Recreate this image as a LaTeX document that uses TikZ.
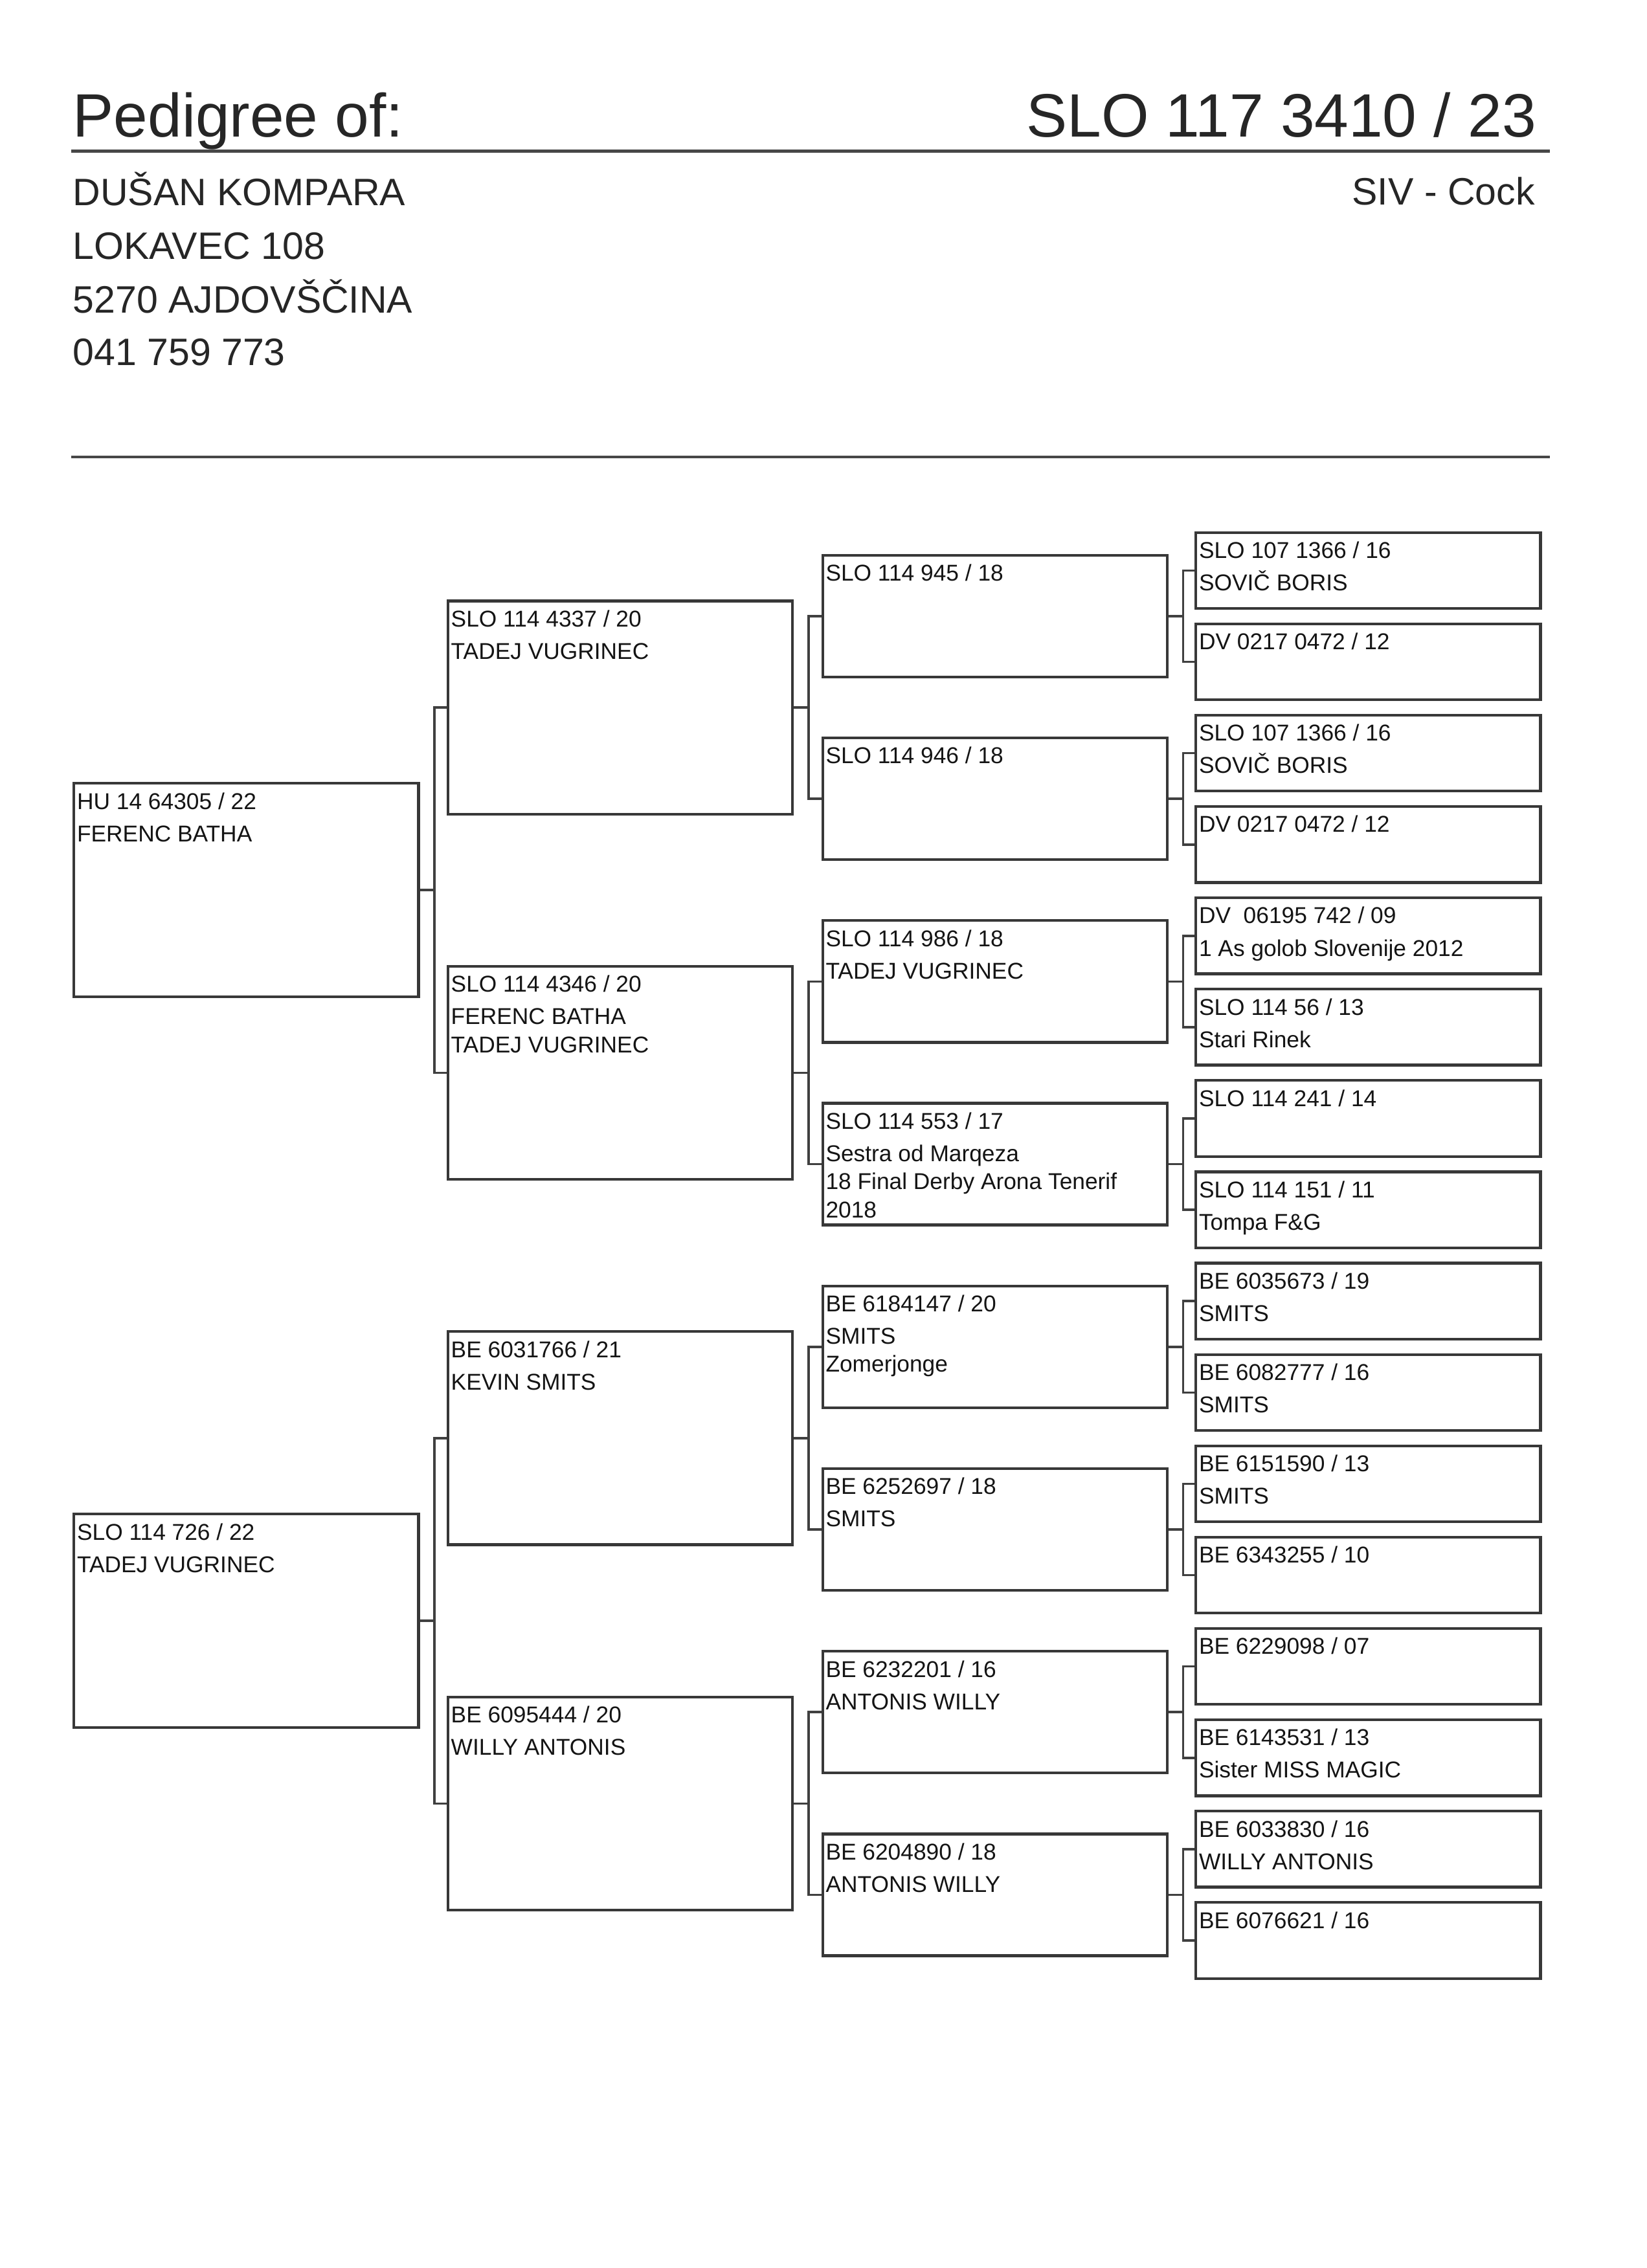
\documentclass[tikz,border=0pt]{standalone}
\usepackage{fontspec}
\setmainfont{Liberation Sans}

\begin{document}
\begin{tikzpicture}[x=0.025cm,y=-0.025cm,
  every node/.style={inner sep=0pt},
  pedbox/.style={draw=black!78, line width=1.35pt, anchor=north west, minimum width=5.93cm},
  g1/.style={pedbox, minimum height=3.675cm},
  g2/.style={pedbox, minimum height=3.6675cm},
  g3/.style={pedbox, minimum height=2.095cm},
  g4/.style={pedbox, minimum height=1.3075cm},
  pedline/.style={anchor=base west, text=black!92, font=\fontsize{11.2}{13}\selectfont},
  row1/.style={pedline, xshift=0.07cm, yshift=-0.4675cm},
  row2/.style={pedline, xshift=0.07cm, yshift=-1.025cm},
  row3/.style={pedline, xshift=0.07cm, yshift=-1.5075cm},
  row4/.style={pedline, xshift=0.07cm, yshift=-1.99cm},
  link/.style={draw=black!75, line width=1.15pt},
  rule/.style={draw=black!72, line width=1.4pt},
  title/.style={text=black!85, font=\fontsize{30}{36}\selectfont},
  owner/.style={anchor=base west, text=black!85, font=\fontsize{18.7}{22}\selectfont}]
  \fill [white] (0,0) rectangle (1134,1562);
  \useasboundingbox (0,0) rectangle (1134,1562);

  % header
  \node [title, anchor=base west] (head) at (50,94.5) {Pedigree of:};
  \node [title, anchor=base east] (ring) at (1058,94.5) {SLO 117 3410 / 23};
  \draw [rule] (49,104) -- (1067,104);
  \node [owner] (name) at (50,141.5) {DUŠAN KOMPARA};
  \node [owner, anchor=base east] (sex) at (1057,141) {SIV - Cock};
  \node [owner] (street) at (50,178.6) {LOKAVEC 108};
  \node [owner] (town) at (50,215.6) {5270 AJDOVŠČINA};
  \node [owner] (phone) at (50,251.6) {041 759 773};
  \draw [rule] (49,314.8) -- (1067,314.8);

  % parents
  \node [g1] (s) at (50,538.6) {};
  \node [row1] (s-1) at (s.north west) {HU 14 64305 / 22};
  \node [row2] (s-2) at (s.north west) {FERENC BATHA};
  \node [g1] (d) at (50,1041.8) {};
  \node [row1] (d-1) at (d.north west) {SLO 114 726 / 22};
  \node [row2] (d-2) at (d.north west) {TADEJ VUGRINEC};

  % grandparents
  \node [g2] (ss) at (307.5,412.95) {};
  \node [row1] (ss-1) at (ss.north west) {SLO 114 4337 / 20};
  \node [row2] (ss-2) at (ss.north west) {TADEJ VUGRINEC};
  \node [g2] (sd) at (307.5,664.55) {};
  \node [row1] (sd-1) at (sd.north west) {SLO 114 4346 / 20};
  \node [row2] (sd-2) at (sd.north west) {FERENC BATHA};
  \node [row3] (sd-3) at (sd.north west) {TADEJ VUGRINEC};
  \node [g2] (ds) at (307.5,916.15) {};
  \node [row1] (ds-1) at (ds.north west) {BE 6031766 / 21};
  \node [row2] (ds-2) at (ds.north west) {KEVIN SMITS};
  \node [g2] (dd) at (307.5,1167.75) {};
  \node [row1] (dd-1) at (dd.north west) {BE 6095444 / 20};
  \node [row2] (dd-2) at (dd.north west) {WILLY ANTONIS};

  % great-grandparents
  \node [g3] (sss) at (565.5,381.5) {};
  \node [row1] (sss-1) at (sss.north west) {SLO 114 945 / 18};
  \node [g3] (ssd) at (565.5,507.3) {};
  \node [row1] (ssd-1) at (ssd.north west) {SLO 114 946 / 18};
  \node [g3] (sds) at (565.5,633.1) {};
  \node [row1] (sds-1) at (sds.north west) {SLO 114 986 / 18};
  \node [row2] (sds-2) at (sds.north west) {TADEJ VUGRINEC};
  \node [g3] (sdd) at (565.5,758.9) {};
  \node [row1] (sdd-1) at (sdd.north west) {SLO 114 553 / 17};
  \node [row2] (sdd-2) at (sdd.north west) {Sestra od Marqeza};
  \node [row3] (sdd-3) at (sdd.north west) {18 Final Derby Arona Tenerif};
  \node [row4] (sdd-4) at (sdd.north west) {2018};
  \node [g3] (dss) at (565.5,884.7) {};
  \node [row1] (dss-1) at (dss.north west) {BE 6184147 / 20};
  \node [row2] (dss-2) at (dss.north west) {SMITS};
  \node [row3] (dss-3) at (dss.north west) {Zomerjonge};
  \node [g3] (dsd) at (565.5,1010.5) {};
  \node [row1] (dsd-1) at (dsd.north west) {BE 6252697 / 18};
  \node [row2] (dsd-2) at (dsd.north west) {SMITS};
  \node [g3] (dds) at (565.5,1136.3) {};
  \node [row1] (dds-1) at (dds.north west) {BE 6232201 / 16};
  \node [row2] (dds-2) at (dds.north west) {ANTONIS WILLY};
  \node [g3] (ddd) at (565.5,1262.1) {};
  \node [row1] (ddd-1) at (ddd.north west) {BE 6204890 / 18};
  \node [row2] (ddd-2) at (ddd.north west) {ANTONIS WILLY};

  % great-great-grandparents
  \node [g4] (ssss) at (822.5,365.8) {};
  \node [row1] (ssss-1) at (ssss.north west) {SLO 107 1366 / 16};
  \node [row2] (ssss-2) at (ssss.north west) {SOVIČ BORIS};
  \node [g4] (sssd) at (822.5,428.7) {};
  \node [row1] (sssd-1) at (sssd.north west) {DV 0217 0472 / 12};
  \node [g4] (ssds) at (822.5,491.6) {};
  \node [row1] (ssds-1) at (ssds.north west) {SLO 107 1366 / 16};
  \node [row2] (ssds-2) at (ssds.north west) {SOVIČ BORIS};
  \node [g4] (ssdd) at (822.5,554.5) {};
  \node [row1] (ssdd-1) at (ssdd.north west) {DV 0217 0472 / 12};
  \node [g4] (sdss) at (822.5,617.4) {};
  \node [row1] (sdss-1) at (sdss.north west) {DV\ \ 06195 742 / 09};
  \node [row2] (sdss-2) at (sdss.north west) {1 As golob Slovenije 2012};
  \node [g4] (sdsd) at (822.5,680.3) {};
  \node [row1] (sdsd-1) at (sdsd.north west) {SLO 114 56 / 13};
  \node [row2] (sdsd-2) at (sdsd.north west) {Stari Rinek};
  \node [g4] (sdds) at (822.5,743.2) {};
  \node [row1] (sdds-1) at (sdds.north west) {SLO 114 241 / 14};
  \node [g4] (sddd) at (822.5,806.1) {};
  \node [row1] (sddd-1) at (sddd.north west) {SLO 114 151 / 11};
  \node [row2] (sddd-2) at (sddd.north west) {Tompa F\&G};
  \node [g4] (dsss) at (822.5,869.0) {};
  \node [row1] (dsss-1) at (dsss.north west) {BE 6035673 / 19};
  \node [row2] (dsss-2) at (dsss.north west) {SMITS};
  \node [g4] (dssd) at (822.5,931.9) {};
  \node [row1] (dssd-1) at (dssd.north west) {BE 6082777 / 16};
  \node [row2] (dssd-2) at (dssd.north west) {SMITS};
  \node [g4] (dsds) at (822.5,994.8) {};
  \node [row1] (dsds-1) at (dsds.north west) {BE 6151590 / 13};
  \node [row2] (dsds-2) at (dsds.north west) {SMITS};
  \node [g4] (dsdd) at (822.5,1057.7) {};
  \node [row1] (dsdd-1) at (dsdd.north west) {BE 6343255 / 10};
  \node [g4] (ddss) at (822.5,1120.6) {};
  \node [row1] (ddss-1) at (ddss.north west) {BE 6229098 / 07};
  \node [g4] (ddsd) at (822.5,1183.5) {};
  \node [row1] (ddsd-1) at (ddsd.north west) {BE 6143531 / 13};
  \node [row2] (ddsd-2) at (ddsd.north west) {Sister MISS MAGIC};
  \node [g4] (ddds) at (822.5,1246.4) {};
  \node [row1] (ddds-1) at (ddds.north west) {BE 6033830 / 16};
  \node [row2] (ddds-2) at (ddds.north west) {WILLY ANTONIS};
  \node [g4] (dddd) at (822.5,1309.3) {};
  \node [row1] (dddd-1) at (dddd.north west) {BE 6076621 / 16};

  % brackets
  \draw [link] (s.east) -- ++(10,0) coordinate (s-j) |- (ss.west) (s-j) |- (sd.west);
  \draw [link] (d.east) -- ++(10,0) coordinate (d-j) |- (ds.west) (d-j) |- (dd.west);
  \draw [link] (ss.east) -- ++(10,0) coordinate (ss-j) |- (sss.west) (ss-j) |- (ssd.west);
  \draw [link] (sd.east) -- ++(10,0) coordinate (sd-j) |- (sds.west) (sd-j) |- (sdd.west);
  \draw [link] (ds.east) -- ++(10,0) coordinate (ds-j) |- (dss.west) (ds-j) |- (dsd.west);
  \draw [link] (dd.east) -- ++(10,0) coordinate (dd-j) |- (dds.west) (dd-j) |- (ddd.west);
  \draw [link] (sss.east) -- ++(10,0) coordinate (sss-j) |- (ssss.west) (sss-j) |- (sssd.west);
  \draw [link] (ssd.east) -- ++(10,0) coordinate (ssd-j) |- (ssds.west) (ssd-j) |- (ssdd.west);
  \draw [link] (sds.east) -- ++(10,0) coordinate (sds-j) |- (sdss.west) (sds-j) |- (sdsd.west);
  \draw [link] (sdd.east) -- ++(10,0) coordinate (sdd-j) |- (sdds.west) (sdd-j) |- (sddd.west);
  \draw [link] (dss.east) -- ++(10,0) coordinate (dss-j) |- (dsss.west) (dss-j) |- (dssd.west);
  \draw [link] (dsd.east) -- ++(10,0) coordinate (dsd-j) |- (dsds.west) (dsd-j) |- (dsdd.west);
  \draw [link] (dds.east) -- ++(10,0) coordinate (dds-j) |- (ddss.west) (dds-j) |- (ddsd.west);
  \draw [link] (ddd.east) -- ++(10,0) coordinate (ddd-j) |- (ddds.west) (ddd-j) |- (dddd.west);
\end{tikzpicture}
\end{document}
